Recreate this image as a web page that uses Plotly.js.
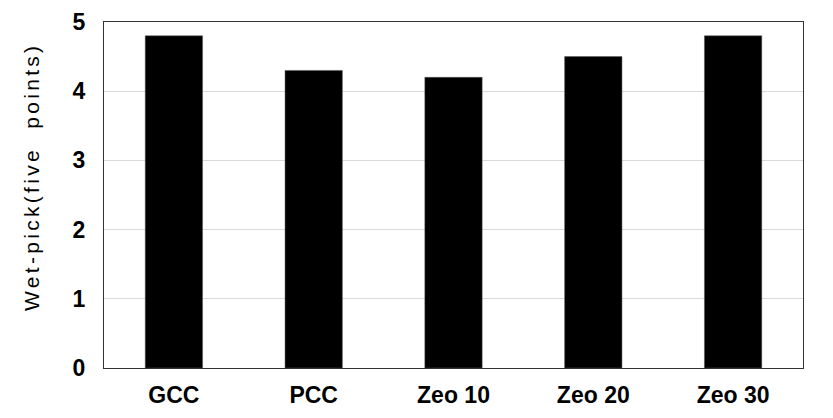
<!DOCTYPE html>
<html>
<head>
<meta charset="utf-8">
<script src="https://cdn.plot.ly/plotly-3.0.1.min.js"></script>
<style>
html,body{margin:0;padding:0;background:#fff;}
#chart{width:833px;height:418px;}
#chart .annotation-text{letter-spacing:3.3px;}
</style>
</head>
<body>
<div id="chart"></div>
<script>
const categories = ["GCC", "PCC", "Zeo 10", "Zeo 20", "Zeo 30"];
const wetPick = [4.8, 4.3, 4.2, 4.5, 4.8];
const yTicks = [0, 1, 2, 3, 4, 5];
const yTitle = "Wet-pick(five&nbsp; points)";

const trace = {
  type: "bar",
  x: categories,
  y: wetPick,
  marker: {color: "#000000", line: {color: "#555555", width: 0.5}},
  hoverinfo: "x+y"
};

const tickFont = {size: 23, family: "Liberation Sans, Arial, sans-serif", weight: "bold", color: "#000000"};

const layout = {
  width: 833,
  height: 418,
  margin: {l: 104, r: 30, t: 22, b: 50},
  paper_bgcolor: "#ffffff",
  plot_bgcolor: "#ffffff",
  bargap: 0.59,
  showlegend: false,
  font: {family: "Liberation Sans, Arial, sans-serif", color: "#000000"},
  xaxis: {
    showline: true, mirror: true, linecolor: "#333333", linewidth: 1.2,
    ticks: "", showgrid: false,
    tickfont: tickFont,
    ticklabelstandoff: 6
  },
  yaxis: {
    range: [0, 5],
    tickvals: yTicks,
    showline: true, mirror: true, linecolor: "#333333", linewidth: 1.2,
    ticks: "", showgrid: true, gridcolor: "#d9d9d9", gridwidth: 1,
    zeroline: false,
    tickfont: tickFont,
    ticklabelstandoff: 13
  },
  annotations: [{
    text: yTitle,
    xref: "paper", yref: "paper",
    x: -0.105, y: 0.552,
    xanchor: "center", yanchor: "middle",
    textangle: -90, showarrow: false,
    font: {size: 21, family: "Liberation Sans, Arial, sans-serif", color: "#000000"}
  }]
};

Plotly.newPlot("chart", [trace], layout, {displayModeBar: false, staticPlot: true});
</script>
</body>
</html>
